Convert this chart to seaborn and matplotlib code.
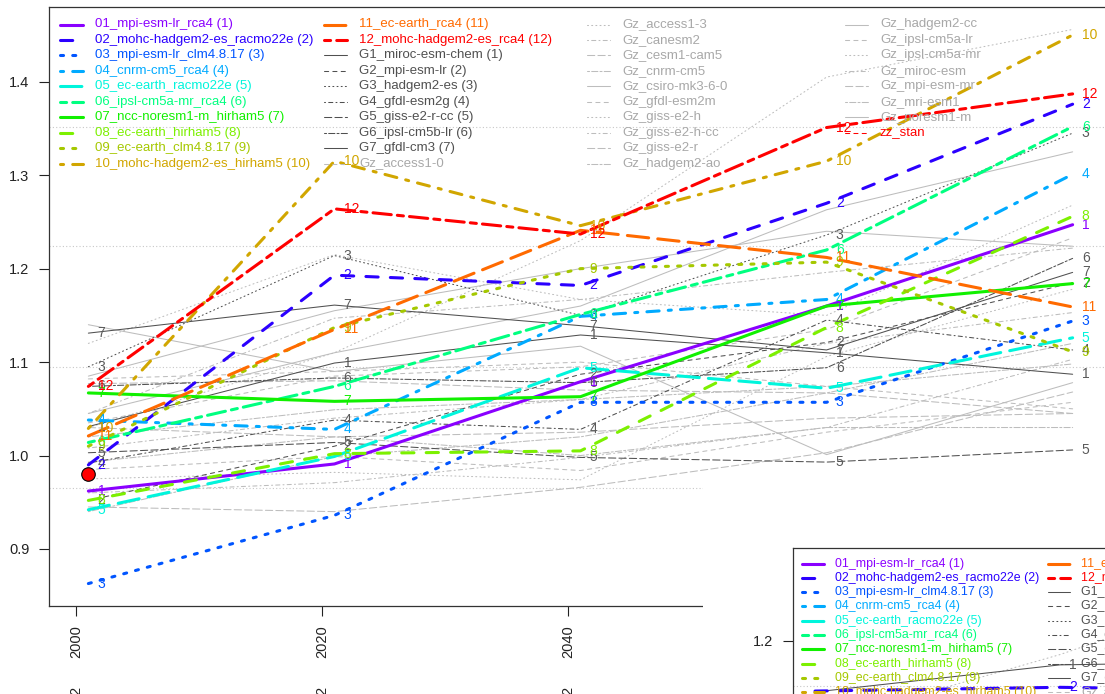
import matplotlib
matplotlib.use("Agg")
import matplotlib.pyplot as plt
import seaborn as sns
from matplotlib.patches import Rectangle
from matplotlib.lines import Line2D

W, H = 1105, 694

years = [2001, 2021, 2041, 2061, 2081]

# ---- regional climate model runs (coloured) ----
r01 = [0.962, 0.991, 1.079, 1.160, 1.247]
r02 = [0.990, 1.193, 1.182, 1.270, 1.376]
r03 = [0.863, 0.936, 1.057, 1.057, 1.144]
r04 = [1.038, 1.028, 1.149, 1.167, 1.301]
r05 = [0.942, 0.999, 1.094, 1.072, 1.126]
r06 = [1.014, 1.074, 1.151, 1.220, 1.352]
r07 = [1.067, 1.058, 1.063, 1.160, 1.184]
r08 = [0.952, 1.002, 1.005, 1.137, 1.256]
r09 = [1.010, 1.137, 1.200, 1.207, 1.111]
r10 = [1.029, 1.315, 1.246, 1.315, 1.450]
r11 = [1.021, 1.135, 1.241, 1.212, 1.159]
r12 = [1.074, 1.264, 1.237, 1.351, 1.387]
rcm_series = [r01, r02, r03, r04, r05, r06, r07, r08, r09, r10, r11, r12]
rcm_labels = ["01_mpi-esm-lr_rca4 (1)", "02_mohc-hadgem2-es_racmo22e (2)",
              "03_mpi-esm-lr_clm4.8.17 (3)", "04_cnrm-cm5_rca4 (4)",
              "05_ec-earth_racmo22e (5)", "06_ipsl-cm5a-mr_rca4 (6)",
              "07_ncc-noresm1-m_hirham5 (7)", "08_ec-earth_hirham5 (8)",
              "09_ec-earth_clm4.8.17 (9)", "10_mohc-hadgem2-es_hirham5 (10)",
              "11_ec-earth_rca4 (11)", "12_mohc-hadgem2-es_rca4 (12)"]
rcm_colors = ["#8A00FF", "#2B00FF", "#0055FF", "#00AAFF", "#00F5DC", "#00FF80",
              "#11F000", "#7CF000", "#A5C800", "#D1A600", "#FF6A00", "#FF0000"]

# ---- driving GCMs (dark grey, labelled) ----
g1 = [1.031, 1.099, 1.129, 1.110, 1.087]
g2 = [0.952, 1.010, 1.087, 1.121, 1.185]
g3 = [1.095, 1.214, 1.150, 1.236, 1.345]
g4 = [0.992, 1.038, 1.028, 1.145, 1.113]
g5 = [1.003, 1.014, 0.998, 0.993, 1.006]
g6 = [1.074, 1.083, 1.078, 1.094, 1.211]
g7 = [1.131, 1.161, 1.139, 1.113, 1.196]
g_series = [g1, g2, g3, g4, g5, g6, g7]
g_labels = ["G1_miroc-esm-chem (1)", "G2_mpi-esm-lr (2)", "G3_hadgem2-es (3)",
            "G4_gfdl-esm2g (4)", "G5_giss-e2-r-cc (5)", "G6_ipsl-cm5b-lr (6)",
            "G7_gfdl-cm3 (7)"]

# ---- other GCMs (light grey, unlabelled) ----
gz01 = [1.082, 1.090, 1.100, 1.074, 1.050]
gz02 = [1.030, 1.110, 1.230, 1.405, 1.456]
gz03 = [1.045, 1.147, 1.167, 1.196, 1.222]
gz04 = [1.077, 1.080, 1.070, 1.067, 1.045]
gz05 = [0.993, 1.020, 1.000, 1.030, 1.030]
gz06 = [1.045, 1.110, 1.160, 1.263, 1.325]
gz07 = [0.985, 0.999, 0.984, 1.025, 1.057]
gz08 = [0.975, 0.982, 0.974, 1.106, 1.178]
gz09 = [1.008, 1.040, 1.060, 1.120, 1.153]
gz10 = [0.945, 0.940, 0.966, 1.003, 1.068]
gz11 = [1.020, 1.049, 1.060, 1.074, 1.098]
gz12 = [1.140, 1.090, 1.117, 1.001, 1.078]
gz13 = [1.035, 1.085, 1.095, 1.135, 1.233]
gz14 = [1.120, 1.215, 1.167, 1.150, 1.268]
gz15 = [0.960, 0.971, 0.998, 1.030, 1.103]
gz16 = [1.030, 1.020, 1.025, 1.040, 1.045]
gz17 = [0.940, 0.999, 1.020, 1.067, 1.120]
gz18 = [1.085, 1.155, 1.200, 1.240, 1.224]
gz_series = [gz01, gz02, gz03, gz04, gz05, gz06, gz07, gz08, gz09, gz10,
             gz11, gz12, gz13, gz14, gz15, gz16, gz17, gz18]
gz_labels = ["Gz_access1-0", "Gz_access1-3", "Gz_canesm2", "Gz_cesm1-cam5",
             "Gz_cnrm-cm5", "Gz_csiro-mk3-6-0", "Gz_gfdl-esm2m", "Gz_giss-e2-h",
             "Gz_giss-e2-h-cc", "Gz_giss-e2-r", "Gz_hadgem2-ao", "Gz_hadgem2-cc",
             "Gz_ipsl-cm5a-lr", "Gz_ipsl-cm5a-mr", "Gz_miroc-esm", "Gz_mpi-esm-mr",
             "Gz_mri-esm1", "Gz_noresm1-m"]

# observation
stan_label = "zz_stan"
stan_year = [2001]
stan_value = [0.980]

# reference levels (dotted horizontal lines)
ref_levels = [1.352, 1.2246, 1.0952, 0.9658]

yticks = [0.9, 1.0, 1.1, 1.2, 1.3, 1.4]
xticks = [2000, 2020, 2040, 2060, 2080]
period_marks = ["2", "2", "2", "2", "2"]

# ---- second (overlapping) panel: only its upper-left corner is visible ----
p2_years = [1981, 2001, 2021]
p2_g1 = [1.145, 1.174, 1.178]
p2_r02 = [1.146, 1.150, 1.146]
p2_gz = [1.110, 1.185, 1.275]
p2_ref_level = 1.151
p2_yticks = [1.0, 1.1, 1.2]

# ----------------------------------------------------------------------
sns.set_theme(style="white")
plt.rcParams["font.family"] = ["Liberation Sans", "DejaVu Sans"]

G_COL, G_TXT = "#505050", "#505050"
GZ_COL, GZ_TXT = "#BDBDBD", "#A8A8A8"
REF_COL = "#C8C8C8"

LTY = {1: "-", 2: (0, (4, 4)), 3: (0, (1, 3)), 4: (0, (1, 3, 4, 3)),
       5: (0, (7, 3)), 6: (0, (2, 2, 6, 2))}

fig = plt.figure(figsize=(W / 100, H / 100), dpi=100)
fig.patch.set_facecolor("white")

AX_L, AX_R = 49, 1112
XL0, XL1 = 1997.8, 2084.2


def fx(px):
    return px / W


def fy(py):
    return 1 - py / H


ax = fig.add_axes([fx(AX_L), fy(606), (AX_R - AX_L) / W, (606 - 7) / H])
ax.set_zorder(0)


def draw_line(a, xs, ys, color, lw, lty):
    sns.lineplot(x=xs, y=ys, ax=a, color=color, linewidth=lw)
    ln = a.lines[-1]
    ln.set_linestyle(LTY[lty])
    ln.set_dash_capstyle("round")
    ln.set_solid_capstyle("round")
    return ln


def label_points(a, xs, ys, text, color, size):
    for xv, yv in zip(xs, ys):
        a.text(xv + 0.75, yv, text, color=color, fontsize=size,
               ha="left", va="center", clip_on=True)


# light grey GCMs
for k, s in enumerate(gz_series):
    draw_line(ax, years, s, GZ_COL, 0.75, (19 + k) % 6 + 1)
# driving GCMs
for k, s in enumerate(g_series):
    draw_line(ax, years, s, G_COL, 0.75, (12 + k) % 6 + 1)
    label_points(ax, years, s, str(k + 1), "#5A5A5A", 10)
# RCMs
for k, s in enumerate(rcm_series):
    draw_line(ax, years, s, rcm_colors[k], 2.2, k % 6 + 1)
    label_points(ax, years, s, str(k + 1), rcm_colors[k], 10)

# reference dotted levels
for lv in ref_levels:
    ax.axhline(lv, color=REF_COL, lw=0.8, ls=(0, (1, 2)), zorder=0.5)

# observation point
ax.scatter(stan_year, stan_value, s=95, color="#FF0000", edgecolor="black",
           linewidth=0.8, zorder=10)

ax.set_xlim(XL0, XL1)
ax.set_ylim(0.839, 1.48)
ax.set_xticks(xticks)
ax.set_xticklabels([str(t) for t in xticks], rotation=90, fontsize=10.5)
ax.set_yticks(yticks)
ax.set_yticklabels([f"{t:.1f}" for t in yticks], fontsize=10.5)
ax.tick_params(axis="both", length=7, width=0.8, color="#222222", labelcolor="#222222",
               direction="out", pad=7, left=True, bottom=True)
ax.set_xlabel("")
ax.set_ylabel("")
for sp in ax.spines.values():
    sp.set_visible(True)
    sp.set_color("#333333")
    sp.set_linewidth(0.9)

# second row of period labels under the years (cut by the image border)
for t, mark in zip(xticks, period_marks):
    xpx = AX_L + (t - XL0) * ((AX_R - AX_L) / (XL1 - XL0))
    fig.text(fx(xpx), fy(687), mark, rotation=90, ha="center", va="top",
             fontsize=10.5, color="#222222")


# ---------------- legend helper ----------------
def legend_entries():
    ents = []
    for k in range(12):
        ents.append((rcm_labels[k], rcm_colors[k], rcm_colors[k], 2.2, k % 6 + 1))
    for k in range(7):
        ents.append((g_labels[k], G_COL, G_TXT, 0.75, (12 + k) % 6 + 1))
    for k in range(18):
        ents.append((gz_labels[k], GZ_COL, GZ_TXT, 0.75, (19 + k) % 6 + 1))
    ents.append((stan_label, "#FF0000", "#FF0000", 0.75, 2))
    return ents


def draw_legend(a, col_x, y0, dy, seg, tpad, fsize):
    for k, (lab, c, tc, lw, lty) in enumerate(legend_entries()):
        col, row = divmod(k, 10)
        y = y0 + row * dy
        x0 = col_x[col]
        ln = Line2D([fx(x0), fx(x0 + seg)], [fy(y), fy(y)], transform=fig.transFigure,
                    color=c, lw=lw, linestyle=LTY[lty], clip_on=False)
        ln.set_dash_capstyle("round")
        a.add_artist(ln)
        a.text(fx(x0 + tpad), fy(y), lab, transform=fig.transFigure, color=tc,
               fontsize=fsize, ha="left", va="center", clip_on=False)


draw_legend(ax, [60, 324, 587, 845], 24.5, 15.45, 23, 35, 9.5)

# ---------------- overlapping second panel ----------------
cover = Rectangle((fx(703), 0), (W - 703) / W, (H - 476) / H, transform=fig.transFigure,
                  facecolor="white", edgecolor="none", zorder=3)
fig.add_artist(cover)

ax2 = fig.add_axes([fx(793), fy(548 + 420), 420 / W, 420 / H])
ax2.set_zorder(4)
ax2.set_facecolor("white")
ax2.axhline(p2_ref_level, color=REF_COL, lw=0.8, ls=(0, (1, 2)), zorder=0.5)
draw_line(ax2, p2_years, p2_gz, GZ_COL, 0.75, 3)
draw_line(ax2, p2_years, p2_g1, G_COL, 0.75, 1)
label_points(ax2, p2_years[1:2], p2_g1[1:2], "1", "#5A5A5A", 10)
draw_line(ax2, p2_years, p2_r02, rcm_colors[1], 2.2, 2)
label_points(ax2, p2_years[1:2], p2_r02[1:2], "2", rcm_colors[1], 10)
ax2.set_xlim(1979.2, 2013.5)
ax2.set_ylim(1.299 - 420 / 935, 1.299)
ax2.set_yticks(p2_yticks)
ax2.set_yticklabels([f"{t:.1f}" for t in p2_yticks], fontsize=10.5)
ax2.set_xticks([])
ax2.tick_params(axis="y", length=7, width=0.8, color="#222222", labelcolor="#222222",
                direction="out", pad=7, left=True)
ax2.set_xlabel("")
ax2.set_ylabel("")
for sp in ax2.spines.values():
    sp.set_visible(True)
    sp.set_color("#333333")
    sp.set_linewidth(0.9)
draw_legend(ax2, [802, 1048, 1290, 1530], 563.5, 14.3, 22, 33, 8.9)

fig.savefig("out.png", dpi=100, facecolor="white")
